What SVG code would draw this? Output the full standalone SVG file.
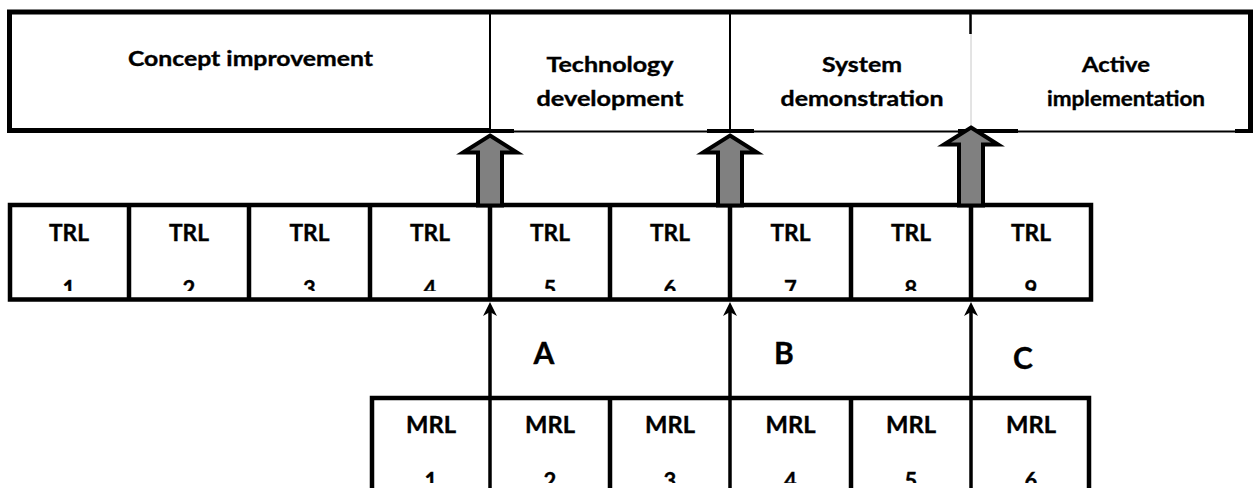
<svg xmlns="http://www.w3.org/2000/svg" width="1257" height="488" viewBox="0 0 1257 488">
  <style>
    .t { font-family: Lato, "Open Sans", "Liberation Sans", sans-serif; font-weight: bold; fill: #000; stroke: #000; stroke-width: 0.35; text-anchor: middle; }
    .head { font-size: 20px; }
    .lvl { font-size: 22px; }
    .gate { font-size: 30px; }
    .cell { fill: #fff; stroke: #000; stroke-width: 4.5; }
    .div { stroke: #000; stroke-width: 4.5; }
    .block { fill: #808080; stroke: #000; stroke-width: 4; stroke-linejoin: miter; }
    .link { stroke: #000; stroke-width: 3.5; fill: none; }
  </style>
  <defs>
    <!-- digits under each TRL / MRL label are cut off by the cell box -->
    <clipPath id="trl-clip"><rect x="0" y="200" width="1257" height="91"/></clipPath>
    <clipPath id="mrl-clip"><rect x="0" y="395" width="1257" height="88"/></clipPath>
    <marker id="tip" viewBox="0 0 14 14" refX="10" refY="7" markerWidth="14" markerHeight="14" markerUnits="userSpaceOnUse" orient="auto">
      <path d="M14,7 L0,0 L4,7 L0,14 Z" fill="#000"/>
    </marker>
  </defs>

  <rect width="1257" height="488" fill="#fff"/>

  <!-- phase band frame -->
  <g id="phase-frame">
    <rect x="9.5" y="12" width="1241" height="118.5" fill="#fff" stroke="none"/>
    <line x1="7" y1="12" x2="1253" y2="12" stroke="#000" stroke-width="5"/>
    <line x1="9.5" y1="12" x2="9.5" y2="133" stroke="#000" stroke-width="5"/>
    <line x1="1250.5" y1="12" x2="1250.5" y2="133" stroke="#000" stroke-width="5"/>
    <line x1="7" y1="130.5" x2="490" y2="130.5" stroke="#000" stroke-width="5"/>
    <line x1="490" y1="131.5" x2="1253" y2="131.5" stroke="#000" stroke-width="2"/>
    <line x1="490" y1="131" x2="514" y2="131" stroke="#000" stroke-width="4"/>
    <line x1="707" y1="131" x2="754" y2="131" stroke="#000" stroke-width="4"/>
    <line x1="958" y1="131" x2="1018" y2="131" stroke="#000" stroke-width="4"/>
    <line x1="1235" y1="131" x2="1253" y2="131" stroke="#000" stroke-width="4"/>
    <line x1="490" y1="14" x2="490" y2="131" stroke="#000" stroke-width="2"/>
    <line x1="730" y1="14" x2="730" y2="131" stroke="#000" stroke-width="2"/>
    <line x1="971" y1="14" x2="971" y2="131" stroke="#c8c8c8" stroke-width="1"/>
    <line x1="970.5" y1="14" x2="970.5" y2="34" stroke="#000" stroke-width="2.5"/>
  </g>

  <g id="phase-concept">
    <text class="t head" x="250.5" y="66" textLength="245" lengthAdjust="spacingAndGlyphs">Concept improvement</text>
  </g>
  <g id="phase-technology">
    <text class="t head" x="610" y="72" textLength="127" lengthAdjust="spacingAndGlyphs">Technology</text>
    <text class="t head" x="610" y="106" textLength="147" lengthAdjust="spacingAndGlyphs">development</text>
  </g>
  <g id="phase-system">
    <text class="t head" x="862" y="72" textLength="80" lengthAdjust="spacingAndGlyphs">System</text>
    <text class="t head" x="862" y="106" textLength="163" lengthAdjust="spacingAndGlyphs">demonstration</text>
  </g>
  <g id="phase-active">
    <text class="t head" x="1116" y="72" textLength="68" lengthAdjust="spacingAndGlyphs">Active</text>
    <text class="t head" x="1126" y="106" textLength="158" lengthAdjust="spacingAndGlyphs">implementation</text>
  </g>

  <!-- TRL row -->
  <g id="trl-row">
    <rect class="cell" x="10" y="205" width="1081" height="94.5"/>
    <g class="div">
      <line x1="129" y1="205" x2="129" y2="299.5"/>
      <line x1="249" y1="205" x2="249" y2="299.5"/>
      <line x1="370" y1="205" x2="370" y2="299.5"/>
      <line x1="490" y1="205" x2="490" y2="299.5"/>
      <line x1="610" y1="205" x2="610" y2="299.5"/>
      <line x1="730" y1="205" x2="730" y2="299.5"/>
      <line x1="851" y1="205" x2="851" y2="299.5"/>
      <line x1="971" y1="205" x2="971" y2="299.5"/>
    </g>
  </g>
  <g id="trl-1"><text class="t lvl" x="69" y="241" textLength="40" lengthAdjust="spacingAndGlyphs">TRL</text><text class="t lvl" x="69" y="297" clip-path="url(#trl-clip)">1</text></g>
  <g id="trl-2"><text class="t lvl" x="189" y="241" textLength="40" lengthAdjust="spacingAndGlyphs">TRL</text><text class="t lvl" x="189" y="297" clip-path="url(#trl-clip)">2</text></g>
  <g id="trl-3"><text class="t lvl" x="309.5" y="241" textLength="40" lengthAdjust="spacingAndGlyphs">TRL</text><text class="t lvl" x="309.5" y="297" clip-path="url(#trl-clip)">3</text></g>
  <g id="trl-4"><text class="t lvl" x="430" y="241" textLength="40" lengthAdjust="spacingAndGlyphs">TRL</text><text class="t lvl" x="430" y="297" clip-path="url(#trl-clip)">4</text></g>
  <g id="trl-5"><text class="t lvl" x="550" y="241" textLength="40" lengthAdjust="spacingAndGlyphs">TRL</text><text class="t lvl" x="550" y="297" clip-path="url(#trl-clip)">5</text></g>
  <g id="trl-6"><text class="t lvl" x="670" y="241" textLength="40" lengthAdjust="spacingAndGlyphs">TRL</text><text class="t lvl" x="670" y="297" clip-path="url(#trl-clip)">6</text></g>
  <g id="trl-7"><text class="t lvl" x="790.5" y="241" textLength="40" lengthAdjust="spacingAndGlyphs">TRL</text><text class="t lvl" x="790.5" y="297" clip-path="url(#trl-clip)">7</text></g>
  <g id="trl-8"><text class="t lvl" x="911" y="241" textLength="40" lengthAdjust="spacingAndGlyphs">TRL</text><text class="t lvl" x="911" y="297" clip-path="url(#trl-clip)">8</text></g>
  <g id="trl-9"><text class="t lvl" x="1031" y="241" textLength="40" lengthAdjust="spacingAndGlyphs">TRL</text><text class="t lvl" x="1031" y="297" clip-path="url(#trl-clip)">9</text></g>

  <!-- MRL row -->
  <g id="mrl-row">
    <path class="cell" d="M372,500 L372,398 L1089,398 L1089,500"/>
    <g class="div">
      <line x1="610" y1="398" x2="610" y2="500"/>
      <line x1="851" y1="398" x2="851" y2="500"/>
    </g>
    <g class="link">
      <line x1="490" y1="398" x2="490" y2="500"/>
      <line x1="730" y1="398" x2="730" y2="500"/>
      <line x1="971" y1="398" x2="971" y2="500"/>
    </g>
  </g>
  <g id="mrl-1"><text class="t lvl" x="431" y="433" textLength="50" lengthAdjust="spacingAndGlyphs">MRL</text><text class="t lvl" x="431" y="489" clip-path="url(#mrl-clip)">1</text></g>
  <g id="mrl-2"><text class="t lvl" x="550" y="433" textLength="50" lengthAdjust="spacingAndGlyphs">MRL</text><text class="t lvl" x="550" y="489" clip-path="url(#mrl-clip)">2</text></g>
  <g id="mrl-3"><text class="t lvl" x="670" y="433" textLength="50" lengthAdjust="spacingAndGlyphs">MRL</text><text class="t lvl" x="670" y="489" clip-path="url(#mrl-clip)">3</text></g>
  <g id="mrl-4"><text class="t lvl" x="790.5" y="433" textLength="50" lengthAdjust="spacingAndGlyphs">MRL</text><text class="t lvl" x="790.5" y="489" clip-path="url(#mrl-clip)">4</text></g>
  <g id="mrl-5"><text class="t lvl" x="911" y="433" textLength="50" lengthAdjust="spacingAndGlyphs">MRL</text><text class="t lvl" x="911" y="489" clip-path="url(#mrl-clip)">5</text></g>
  <g id="mrl-6"><text class="t lvl" x="1031" y="433" textLength="50" lengthAdjust="spacingAndGlyphs">MRL</text><text class="t lvl" x="1031" y="489" clip-path="url(#mrl-clip)">6</text></g>

  <!-- gate labels -->
  <g id="gate-a"><text class="t gate" x="544" y="364">A</text></g>
  <g id="gate-b"><text class="t gate" x="784" y="364">B</text></g>
  <g id="gate-c"><text class="t gate" x="1023" y="369">C</text></g>

  <!-- connectors -->
  <g id="connectors">
    <!-- block arrows: TRL level up to the next phase -->
    <path class="block" transform="translate(490,135.5)" d="M0,0 L27,17 L12,17 L12,70 L-12,70 L-12,17 L-27,17 Z"/>
    <path class="block" transform="translate(730,135.5)" d="M0,0 L27,17 L12,17 L12,70 L-12,70 L-12,17 L-27,17 Z"/>
    <path class="block" transform="translate(971,127.5)" d="M0,0 L27,17 L12,17 L12,78 L-12,78 L-12,17 L-27,17 Z"/>
    <!-- MRL gates feeding the TRL row -->
    <line class="link" x1="490" y1="398" x2="490" y2="306" marker-end="url(#tip)"/>
    <line class="link" x1="730" y1="398" x2="730" y2="306" marker-end="url(#tip)"/>
    <line class="link" x1="971" y1="398" x2="971" y2="306" marker-end="url(#tip)"/>
  </g>
</svg>
